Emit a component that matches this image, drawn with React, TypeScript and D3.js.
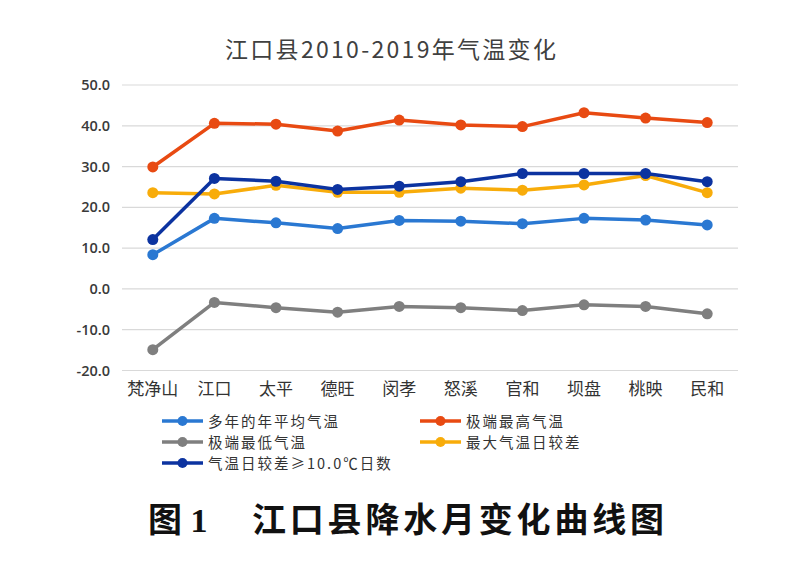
import React from "react";
import * as d3 from "d3";

const categories = ["梵净山", "江口", "太平", "德旺", "闵孝", "怒溪", "官和", "坝盘", "桃映", "民和"];
const avgTemp = [8.4, 17.3, 16.2, 14.8, 16.8, 16.6, 16.0, 17.3, 16.9, 15.7];
const maxTemp = [29.9, 40.6, 40.4, 38.7, 41.4, 40.2, 39.8, 43.2, 41.9, 40.8];
const minTemp = [-14.9, -3.3, -4.6, -5.7, -4.3, -4.6, -5.3, -3.9, -4.3, -6.1];
const maxDiurnal = [23.6, 23.3, 25.4, 23.7, 23.7, 24.7, 24.2, 25.5, 27.8, 23.6];
const daysOver10 = [12.1, 27.1, 26.4, 24.4, 25.2, 26.3, 28.3, 28.3, 28.3, 26.3];
const yTicks = [-20, -10, 0, 10, 20, 30, 40, 50];
const seriesNames = ["多年的年平均气温", "极端最高气温", "极端最低气温", "最大气温日较差", "气温日较差≥10.0℃日数"];
const seriesColors = ["#2a78d2", "#e84a12", "#7f7f7f", "#f8ac0a", "#0c33a0"];
const title = "江口县2010-2019年气温变化";
const captionLabel = "图 1";
const captionText = "江口县降水月变化曲线图";

export default function App() {
  const W = 792, H = 580;
  const x = d3.scaleBand().domain(categories).range([122, 738]);
  const y = d3.scaleLinear().domain([-20, 50]).range([370.5, 85]);
  const cx = (c: string) => (x(c) as number) + x.bandwidth() / 2;
  const allSeries = [avgTemp, maxTemp, minTemp, maxDiurnal, daysOver10];
  const line = d3
    .line<number>()
    .x((_, i) => cx(categories[i]))
    .y((v) => y(v));
  const legendPos = [
    { lx: 162, ly: 421 },
    { lx: 420, ly: 421 },
    { lx: 162, ly: 442 },
    { lx: 420, ly: 442 },
    { lx: 162, ly: 463 },
  ];
  return (
    <svg
      width={W}
      height={H}
      style={{ position: "absolute", left: 0, top: 0, background: "#fff" }}
    >
      <rect width={W} height={H} fill="#fff" />
      <text
        x={225}
        y={58}
        fontFamily="'Noto Sans CJK SC', sans-serif"
        fontSize={23}
        letterSpacing={2.3}
        fill="#404040"
      >
        {title}
      </text>
      {yTicks.map((t) => (
        <g key={t}>
          <line x1={122} x2={738} y1={y(t)} y2={y(t)} stroke="#d9d9d9" strokeWidth={1.2} />
          <text
            x={110}
            y={y(t) + 5}
            textAnchor="end"
            fontFamily="'Open Sans', sans-serif"
            fontSize={14.5}
            fontWeight={600}
            fill="#3a3a3a"
          >
            {t.toFixed(1)}
          </text>
        </g>
      ))}
      {categories.map((c) => (
        <text
          key={c}
          x={cx(c)}
          y={395}
          textAnchor="middle"
          fontFamily="'Noto Sans CJK SC', sans-serif"
          fontSize={17}
          fill="#333"
        >
          {c}
        </text>
      ))}
      {allSeries.map((s, si) => (
        <g key={si}>
          <path d={line(s) || ""} fill="none" stroke={seriesColors[si]} strokeWidth={3.5} strokeLinejoin="round" />
          {s.map((v, i) => (
            <circle key={i} cx={cx(categories[i])} cy={y(v)} r={5.5} fill={seriesColors[si]} />
          ))}
        </g>
      ))}
      {seriesNames.map((n, i) => {
        const { lx, ly } = legendPos[i];
        return (
          <g key={n}>
            <line x1={lx} x2={lx + 41} y1={ly} y2={ly} stroke={seriesColors[i]} strokeWidth={3.5} />
            <circle cx={lx + 20.5} cy={ly} r={5} fill={seriesColors[i]} />
            <text
              x={lx + 46}
              y={ly + 5.5}
              fontFamily="'Noto Sans CJK SC', sans-serif"
              fontSize={14.5}
              letterSpacing={2}
              fill="#333"
            >
              {n}
            </text>
          </g>
        );
      })}
      <text
        x={148}
        y={532}
        fontFamily="'Liberation Serif', 'Noto Sans CJK SC', serif"
        fontSize={34}
        fontWeight={700}
        fill="#111"
      >
        {captionLabel}
      </text>
      <text
        x={252}
        y={532}
        fontFamily="'Noto Sans CJK SC', serif"
        fontSize={34}
        fontWeight={700}
        letterSpacing={3.8}
        fill="#111"
      >
        {captionText}
      </text>
    </svg>
  );
}
